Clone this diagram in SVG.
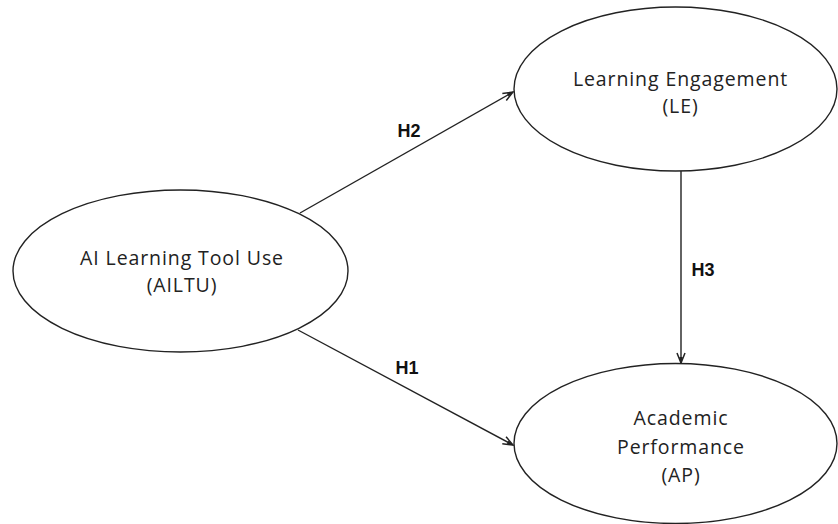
<svg xmlns="http://www.w3.org/2000/svg" width="838" height="524" viewBox="0 0 838 524">
<style>
.node ellipse{fill:#fff;stroke:#222;stroke-width:1.4}
.node text{font-family:"Open Sans","DejaVu Sans",sans-serif;font-size:19.5px;fill:#222;text-anchor:middle;letter-spacing:0.9px}
.edge line{stroke:#222;stroke-width:1.4;fill:none}
.lbl{font-family:"Liberation Sans",Arial,sans-serif;font-weight:bold;font-size:18px;fill:#111;text-anchor:middle}
</style>
<defs>
<marker id="arr" viewBox="0 0 12 10" refX="11" refY="5" markerWidth="12" markerHeight="10" markerUnits="userSpaceOnUse" orient="auto">
<path d="M1,1 L11,5 L1,9" fill="none" stroke="#222" stroke-width="1.5"/>
<path d="M5,3.2 L11,5 L5,6.8 z" fill="#222"/>
</marker>
</defs>
<g id="connectors" class="edge">
<line x1="300" y1="213" x2="513" y2="92" marker-end="url(#arr)"/>
<line x1="298" y1="330" x2="513" y2="445" marker-end="url(#arr)"/>
<line x1="681" y1="171" x2="681" y2="363" marker-end="url(#arr)"/>
<text class="lbl" x="409" y="137">H2</text>
<text class="lbl" x="407" y="374">H1</text>
<text class="lbl" x="703" y="276">H3</text>
</g>
<g id="AILTU" class="node">
<ellipse cx="180.5" cy="271" rx="167.5" ry="81"/>
<text x="182" y="265">AI Learning Tool Use</text>
<text x="182" y="292">(AILTU)</text>
</g>
<g id="LE" class="node">
<ellipse cx="675.5" cy="89" rx="161.5" ry="82"/>
<text x="680.5" y="86">Learning Engagement</text>
<text x="680.5" y="113">(LE)</text>
</g>
<g id="AP" class="node">
<ellipse cx="675.5" cy="443.5" rx="161.5" ry="80"/>
<text x="681" y="425">Academic</text>
<text x="681" y="453.5">Performance</text>
<text x="681" y="482">(AP)</text>
</g>
</svg>
